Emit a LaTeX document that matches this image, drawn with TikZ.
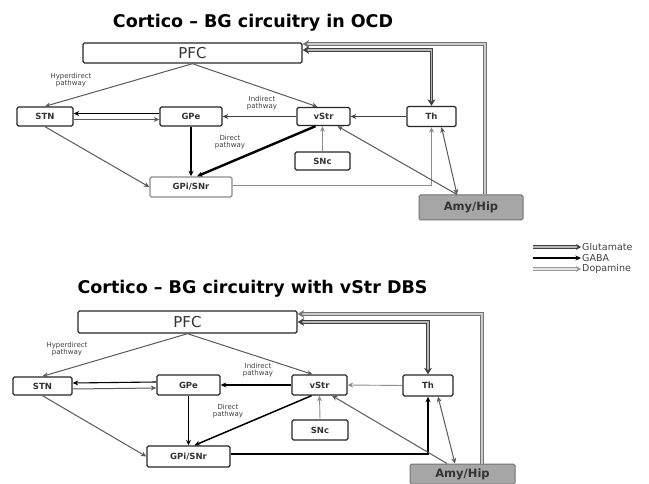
\documentclass[tikz,border=0pt]{standalone}
\usepackage{fontspec}
\setmainfont{DejaVu Sans}
\usetikzlibrary{arrows.meta}
\begin{document}
\begin{tikzpicture}[x=1pt,y=-1pt,
  >={Stealth[length=5.5pt,width=5pt]},
  box/.style={draw=black!85, line width=1.4pt, rounded corners=1.5pt, fill=white, inner sep=0pt,
              font=\bfseries\fontsize{8.5}{9}\selectfont, text=black!80},
  amy/.style={box, fill=black!35, draw=black!55, line width=1pt, font=\bfseries\fontsize{11.5}{12}\selectfont},
  ttl/.style={font=\bfseries\fontsize{17.5}{19}\selectfont, inner sep=0pt},
  glu/.style={draw=black!65, line width=1pt, ->},
  gaba/.style={draw=black, line width=1.8pt, ->},
  dopa/.style={draw=black!45, line width=0.9pt, ->},
  dbl/.style={draw=black!75, double=black!28, line width=0.8pt, double distance=1.8pt,
              -{Stealth[length=6.5pt,width=8pt]}},
  dbltwo/.style={dbl, {Stealth[length=6.5pt,width=8pt]}-{Stealth[length=6.5pt,width=8pt]}},
  lbl/.style={font=\fontsize{7}{7.5}\selectfont, align=center, text=black!75, inner sep=0pt},
  legt/.style={font=\fontsize{9.5}{10}\selectfont, text=black!75, inner sep=1pt, anchor=west}
]
\useasboundingbox (0,0) rectangle (649,484);

% ================= top diagram =================
\node[ttl] (title1) at (253,23) {Cortico – BG circuitry in OCD};
\node[box, minimum width=219pt, minimum height=20pt, font=\fontsize{15}{16}\selectfont] (tPFC) at (192.5,53) {PFC};
\node[box, minimum width=56pt, minimum height=19pt] (tSTN) at (45,116.5) {STN};
\node[box, minimum width=62pt, minimum height=19pt] (tGPe) at (191,116.5) {GPe};
\node[box, minimum width=53pt, minimum height=18pt] (tvStr) at (323.5,116.5) {vStr};
\node[box, minimum width=49pt, minimum height=20pt] (tTh) at (431.5,116.5) {Th};
\node[box, minimum width=55pt, minimum height=18pt] (tSNc) at (322.5,161) {SNc};
\node[box, draw=black!45, minimum width=82pt, minimum height=20pt] (tGPi) at (191,187) {GPi/SNr};
\node[amy, minimum width=104pt, minimum height=25pt] (tAmy) at (471,207.5) {Amy/Hip};

\node[lbl] (tl1) at (71,80) {Hyperdirect\\pathway};
\node[lbl] (tl2) at (262,103) {Indirect\\pathway};
\node[lbl] (tl3) at (230,142) {Direct\\pathway};

\draw[glu] (tPFC.south) -- (tSTN.north);
\draw[glu] (tPFC.south) -- ([xshift=-6pt]tvStr.north);
\draw[glu, draw=black!75, line width=1.2pt] (tvStr.west) -- (tGPe.east);
\draw[gaba, line width=1.1pt] ([yshift=3pt]tGPe.west) -- ([yshift=3pt]tSTN.east);
\draw[glu] ([yshift=-3pt]tSTN.east) -- ([yshift=-3pt]tGPe.west);
\draw[gaba, line width=1.5pt] (tGPe.south) -- (tGPi.north);
\draw[gaba, line width=2.4pt] ([xshift=-8pt]tvStr.south) -- ([xshift=6pt]tGPi.north);
\draw[glu] (tSTN.south) -- (tGPi.west);
\draw[dopa] ([yshift=2pt]tGPi.east) -| (tTh.south);
\draw[glu] ([xshift=-14pt]tAmy.north) -- ([xshift=14pt]tvStr.south);
\draw[glu, <->] ([xshift=10pt]tTh.south) -- ([xshift=-14pt]tAmy.north);
\draw[glu, draw=black!75] (tTh.west) -- (tvStr.east);
\draw[dbltwo] (tTh.north) |- ([yshift=3pt]tPFC.east);
\draw[dbl, draw=black!55, double=black!20] ([xshift=14pt]tAmy.north) |- ([yshift=9pt]tPFC.east);
\draw[dopa] (tSNc.north) -- (tSNc.north |- tvStr.south);

% ================= legend =================
\coordinate (lg1s) at (533,247);
\coordinate (lg2s) at (533,258);
\coordinate (lg3s) at (533,269);
\node[legt] (lg1) at (581,247) {Glutamate};
\node[legt] (lg2) at (581,258) {GABA};
\node[legt] (lg3) at (581,269) {Dopamine};
\draw[dbl, -{Stealth[length=5pt,width=6pt]}] (lg1s) -- (lg1.west);
\draw[gaba, line width=1.6pt] (lg2s) -- (lg2.west);
\draw[dbl, draw=black!40, double=black!10, -{Stealth[length=5pt,width=6pt]}] (lg3s) -- (lg3.west);

% ================= bottom diagram =================
\node[ttl] (title2) at (252.5,289) {Cortico – BG circuitry with vStr DBS};
\node[box, minimum width=219pt, minimum height=22pt, font=\fontsize{15}{16}\selectfont] (bPFC) at (187.5,322) {PFC};
\node[box, minimum width=59pt, minimum height=18pt] (bSTN) at (42.5,386) {STN};
\node[box, minimum width=63pt, minimum height=20pt] (bGPe) at (188.5,385) {GPe};
\node[box, minimum width=55pt, minimum height=20pt] (bvStr) at (319.5,385) {vStr};
\node[box, minimum width=50pt, minimum height=21pt] (bTh) at (428,385.5) {Th};
\node[box, minimum width=56pt, minimum height=20pt] (bSNc) at (320,430) {SNc};
\node[box, minimum width=83pt, minimum height=21pt] (bGPi) at (188.5,456.5) {GPi/SNr};
\node[amy, minimum width=105pt, minimum height=20pt] (bAmy) at (462.5,474) {Amy/Hip};

\node[lbl] (bl1) at (67,349) {Hyperdirect\\pathway};
\node[lbl] (bl2) at (258,370) {Indirect\\pathway};
\node[lbl] (bl3) at (228,411) {Direct\\pathway};

\draw[glu] (bPFC.south) -- (bSTN.north);
\draw[glu] (bPFC.south) -- ([xshift=-7pt]bvStr.north);
\draw[gaba, line width=2pt] (bvStr.west) -- (bGPe.east);
\draw[gaba, line width=1.1pt] ([yshift=3pt]bGPe.west) -- ([yshift=3pt]bSTN.east);
\draw[glu] ([yshift=-3pt]bSTN.east) -- ([yshift=-3pt]bGPe.west);
\draw[gaba, line width=1.6pt] (bGPe.south) -- (bGPi.north);
\draw[gaba, line width=1.5pt] ([xshift=-8pt]bvStr.south) -- ([xshift=6pt]bGPi.north);
\draw[glu] (bSTN.south) -- (bGPi.west);
\draw[gaba, line width=1.9pt] ([yshift=2.5pt]bGPi.east) -| (bTh.south);
\draw[glu] ([xshift=-15.5pt]bAmy.north) -- ([xshift=12.5pt]bvStr.south);
\draw[glu, <->] ([xshift=10pt]bTh.south) -- ([xshift=-7.5pt]bAmy.north);
\draw[dopa] (bTh.west) -- (bvStr.east);
\draw[dbltwo] (bTh.north) |- (bPFC.east);
\draw[dbl, draw=black!55, double=black!20] ([xshift=19.5pt]bAmy.north) |- ([yshift=8pt]bPFC.east);
\draw[dopa] (bSNc.north) -- (bvStr.south);
\end{tikzpicture}
\end{document}
